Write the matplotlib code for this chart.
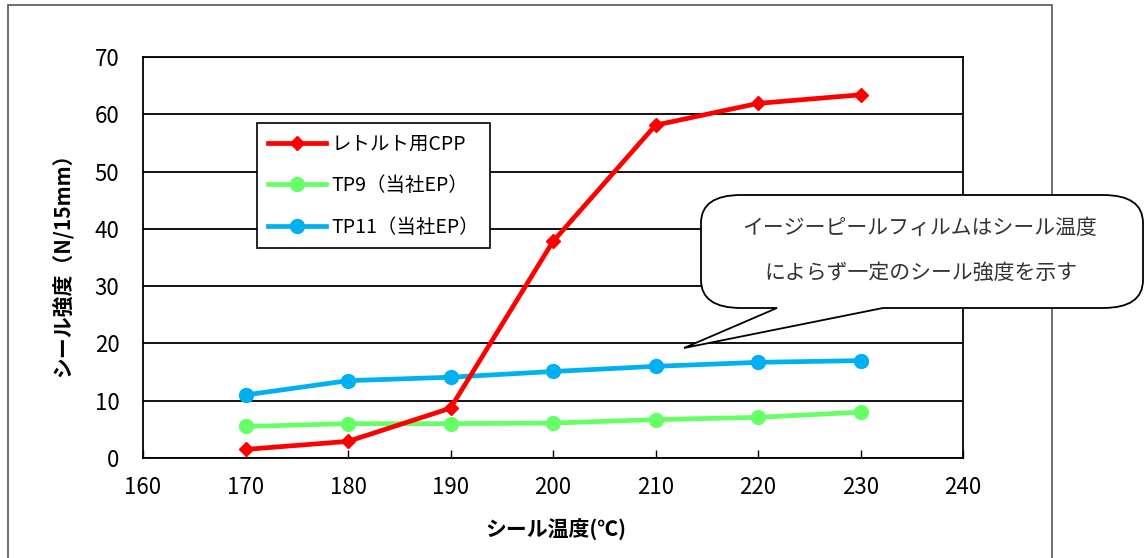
import numpy as np
import matplotlib.pyplot as plt
from matplotlib.path import Path
from matplotlib.patches import PathPatch, Rectangle

plt.rcParams['font.family'] = ['Noto Sans CJK JP', 'DejaVu Sans']

# シール温度とシール強度
temps = [170, 180, 190, 200, 210, 220, 230]
cpp = [1.5, 2.9, 8.7, 37.8, 58.1, 61.9, 63.4]
tp9 = [5.5, 6.0, 6.0, 6.1, 6.7, 7.1, 8.0]
tp11 = [11.0, 13.5, 14.1, 15.1, 16.0, 16.7, 17.0]

labels = ['レトルト用CPP', 'TP9（当社EP）', 'TP11（当社EP）']
xticks = [160, 170, 180, 190, 200, 210, 220, 230, 240]
yticks = [0, 10, 20, 30, 40, 50, 60, 70]

W, H = 1144, 558
fig = plt.figure(figsize=(W / 100, H / 100), dpi=100)
ax = fig.add_axes([143 / W, 1 - 458 / H, 820 / W, 401 / H])

def px(x, y):
    # 画像座標(px) -> figure座標
    return (x / W, 1 - y / H)

# グラフ全体の枠
fig.patches.append(Rectangle(px(8, 600), 1044 / W, 595 / H, transform=fig.transFigure,
                             fill=False, edgecolor='#555555', linewidth=1.2, zorder=0))

ax.plot(temps, cpp, color='#FF0000', lw=3.4, marker='D', ms=7.5, label=labels[0], zorder=5)
ax.plot(temps, tp9, color='#66FF66', lw=3.4, marker='o', ms=10, label=labels[1], zorder=4)
ax.plot(temps, tp11, color='#00B0F0', lw=3.4, marker='o', ms=10, label=labels[2], zorder=4)

ax.set_xlim(160, 240)
ax.set_ylim(0, 70)
ax.set_xticks(xticks)
ax.set_yticks(yticks)
ax.yaxis.grid(True, color='black', lw=1.3)
ax.set_axisbelow(True)
for s in ax.spines.values():
    s.set_linewidth(1.3)
ax.tick_params(axis='x', direction='in', length=6, width=1, pad=13, labelsize=16)
ax.tick_params(axis='y', length=0, pad=17, labelsize=16)

fig.text(*px(556, 530), 'シール温度(℃)', ha='center', va='center', fontsize=15, fontweight='bold')
fig.text(*px(62, 260), 'シール強度（N/15mm）', ha='center', va='center', rotation=90,
         fontsize=15, fontweight='bold')

leg = ax.legend(loc='upper left', bbox_to_anchor=px(257, 123), bbox_transform=fig.transFigure,
                fancybox=False, edgecolor='black', framealpha=1, fontsize=14,
                handlelength=3.0, handletextpad=0.3, labelspacing=1.05, borderpad=0.55,
                borderaxespad=0)
leg.get_frame().set_linewidth(1.2)

# 吹き出し
l, r, t, b = 701, 1143, 195, 308
rx, ry = 40, 28
verts = [px(l + rx, t), px(r - rx, t), px(r, t), px(r, t + ry), px(r, b - ry), px(r, b), px(r - rx, b),
         px(883, b), px(684, 348), px(777, b),
         px(l + rx, b), px(l, b), px(l, b - ry), px(l, t + ry), px(l, t), px(l + rx, t)]
codes = [Path.MOVETO, Path.LINETO, Path.CURVE3, Path.CURVE3, Path.LINETO, Path.CURVE3, Path.CURVE3,
         Path.LINETO, Path.LINETO, Path.LINETO,
         Path.LINETO, Path.CURVE3, Path.CURVE3, Path.LINETO, Path.CURVE3, Path.CURVE3]
fig.patches.append(PathPatch(Path(verts, codes), transform=fig.transFigure, facecolor='white',
                             edgecolor='black', linewidth=1.3, zorder=10))
fig.text(*px(920, 228), 'イージーピールフィルムはシール温度', ha='center', va='center',
         fontsize=15, color='#333333', zorder=11)
fig.text(*px(921, 273), 'によらず一定のシール強度を示す', ha='center', va='center',
         fontsize=15, color='#333333', zorder=11)

fig.savefig('out.png', dpi=100)
